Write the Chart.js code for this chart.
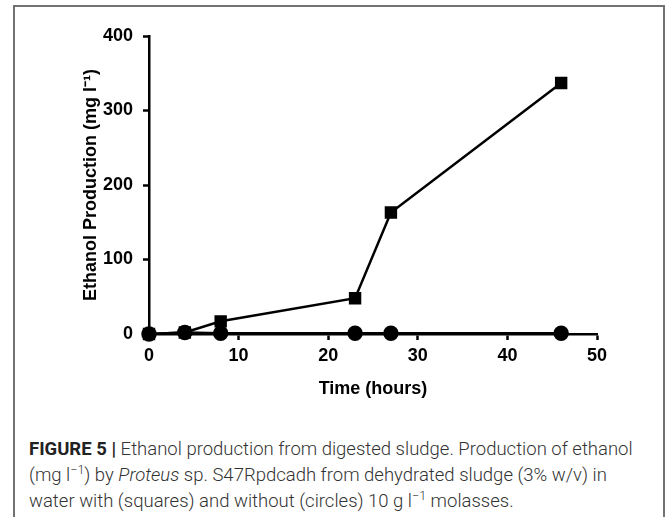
<!DOCTYPE html>
<html>
<head>
<meta charset="utf-8">
<script src="https://cdn.jsdelivr.net/npm/chart.js@4"></script>
<style>
  html, body { margin: 0; padding: 0; background: #fff; }
  body { width: 669px; height: 517px; position: relative; overflow: hidden; }
  #frame {
    position: absolute; left: 13px; top: 5px; width: 652px; height: 530px;
    border: 2px solid #727272; box-sizing: border-box;
  }
  #wrap { position: absolute; left: 0; top: 0; width: 669px; height: 420px; }
  #caption {
    position: absolute; left: 29px; top: 436px; width: 630px;
    font-family: Roboto, "Liberation Sans", sans-serif; font-weight: 300;
    font-size: 18.5px; line-height: 26px; color: #333; white-space: nowrap;
  }
  #caption b { font-weight: 700; color: #222; }
  #caption sup { font-size: 12.5px; line-height: 0; }
</style>
</head>
<body>
<div id="frame"></div>
<div id="wrap"><canvas id="grafico"></canvas></div>
<div id="caption">
  <b>FIGURE 5 |</b> Ethanol production from digested sludge. Production of ethanol<br>
  (mg l<sup>−1</sup>) by <i>Proteus</i> sp. S47Rpdcadh from dehydrated sludge (3% w/v) in<br>
  water with (squares) and without (circles) 10 g l<sup>−1</sup> molasses.
</div>
<script>
// dados
const horas = [0, 4, 8, 23, 27, 46];
const comMelaco = [0, 2, 17, 48, 163, 337];   // quadrados
const semMelaco = [0, 2, 1, 1, 1, 1];         // círculos
const ticksX = [0, 10, 20, 30, 40, 50];
const ticksY = [0, 100, 200, 300, 400];

const fonte = { family: "'Liberation Sans', Arial, sans-serif", size: 18, weight: 'bold' };

function pontos(valores) {
  return horas.map((h, i) => ({ x: h, y: valores[i] }));
}

new Chart(document.getElementById('grafico'), {
  type: 'line',
  data: {
    datasets: [
      {
        label: 'sem melaço',
        data: pontos(semMelaco),
        borderColor: '#000',
        backgroundColor: '#000',
        borderWidth: 2.5,
        pointStyle: 'circle',
        pointRadius: 6.5,
        clip: false
      },
      {
        label: 'com melaço',
        data: pontos(comMelaco),
        borderColor: '#000',
        backgroundColor: '#000',
        borderWidth: 2.5,
        pointStyle: 'rect',
        pointRadius: 7,
        clip: false
      }
    ]
  },
  options: {
    responsive: true,
    maintainAspectRatio: false,
    animation: false,
    layout: { padding: { left: 0, top: 36, right: 72, bottom: 0 } },
    plugins: { legend: { display: false }, tooltip: { enabled: false } },
    scales: {
      x: {
        type: 'linear',
        min: 0,
        max: 50,
        afterBuildTicks: s => { s.ticks = ticksX.map(v => ({ value: v })); },
        afterFit: s => { s.height = 86; },
        grid: { drawOnChartArea: false, drawTicks: true, tickLength: 6, tickColor: '#000', tickWidth: 2.5 },
        border: { color: '#000', width: 2.5 },
        ticks: { color: '#000', font: fonte, padding: 5, maxRotation: 0 },
        title: { display: true, text: 'Time (hours)', color: '#000', font: fonte, padding: { top: 0, bottom: 20 } }
      },
      y: {
        min: 0,
        max: 400,
        afterBuildTicks: s => { s.ticks = ticksY.map(v => ({ value: v })); },
        afterFit: s => { s.width = 149; },
        grid: { drawOnChartArea: false, drawTicks: true, tickLength: 6, tickColor: '#000', tickWidth: 2.5 },
        border: { color: '#000', width: 2.5 },
        ticks: { color: '#000', font: fonte, padding: 10 },
        title: { display: true, text: 'Ethanol Production (mg l⁻¹)', color: '#000', font: fonte, padding: { top: 80, bottom: 0 } }
      }
    }
  }
});
</script>
</body>
</html>
